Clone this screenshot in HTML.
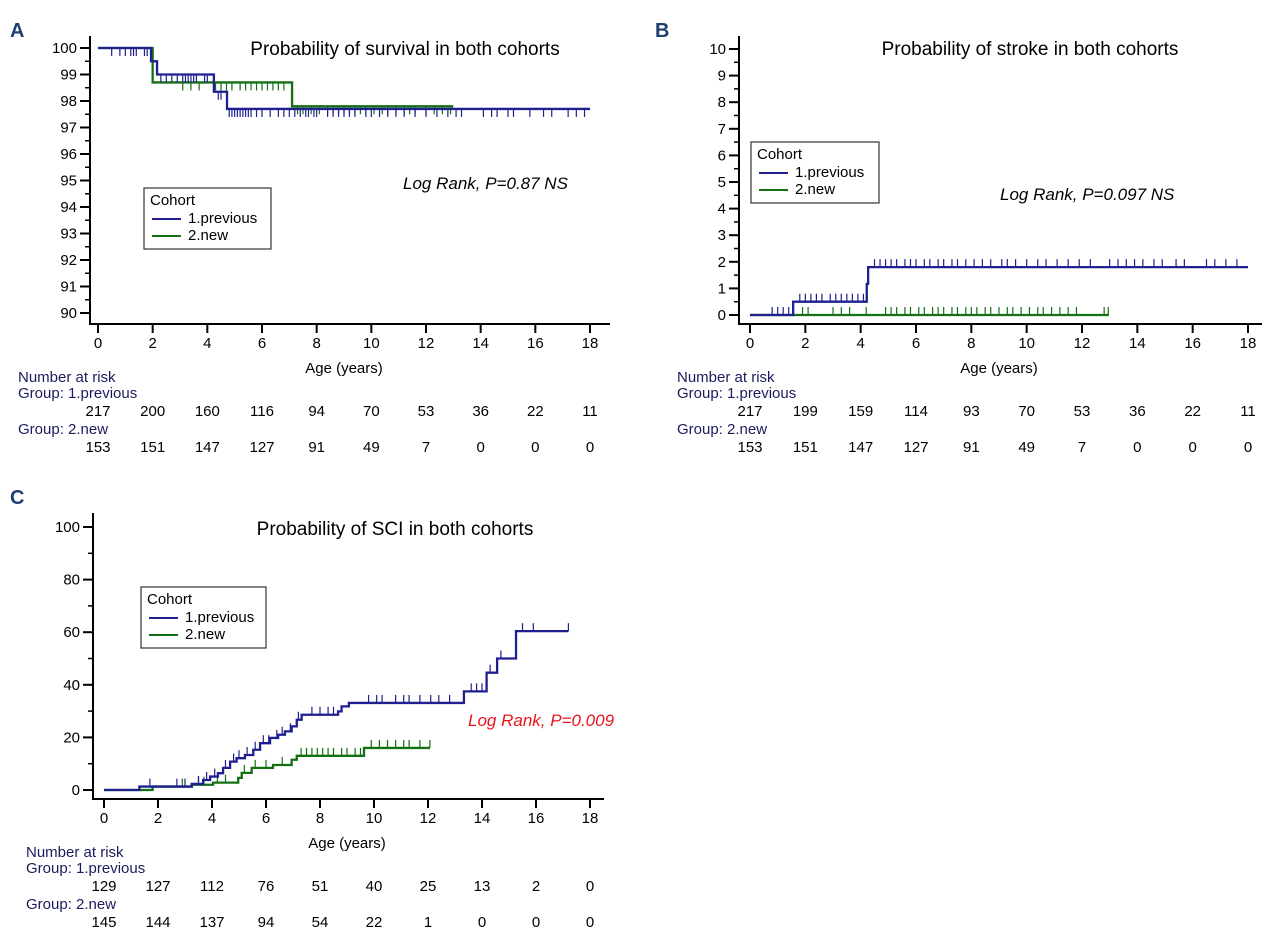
<!DOCTYPE html>
<html><head><meta charset="utf-8"><style>
html,body{margin:0;padding:0;background:#fff;width:1269px;height:942px;overflow:hidden}
svg{display:block;font-family:"Liberation Sans",Arial,sans-serif}
</style></head><body>
<svg id="fig" width="1269" height="942" viewBox="0 0 1269 942"></svg>
<script>
// ---------- data ----------
const xTicks = [0,2,4,6,8,10,12,14,16,18];
// Panel A (survival)
const aYTicks = [90,91,92,93,94,95,96,97,98,99,100];
const aPrevT = [0,1.94,2.16,4.24,4.72,18];
const aPrevV = [100,99.5,99.0,98.35,97.7,97.7];
const aNewT = [0,2.0,7.1,13.0];
const aNewV = [100,98.7,97.8,97.8];
const aPrevCens = [0.5,0.8,1.0,1.2,1.3,1.4,1.7,1.8,2.3,2.5,2.7,2.9,3.1,3.2,3.3,3.4,3.5,3.6,3.9,4.0,4.4,4.5,4.8,4.9,5.0,5.1,5.2,5.3,5.4,5.5,5.6,5.8,6.0,6.3,6.6,6.8,7.0,7.2,7.4,7.6,7.7,7.9,8.0,8.4,8.6,8.8,9.0,9.2,9.4,9.8,10.0,10.3,10.6,10.9,11.2,11.6,12.0,12.4,12.8,13.1,13.3,14.1,14.4,14.6,15.0,15.2,15.8,16.3,16.6,17.2,17.5,17.8];
const aNewCens = [3.1,3.4,3.7,4.3,4.5,4.7,4.9,5.2,5.4,5.6,5.8,6.0,6.2,6.4,6.6,6.8,7.3,7.5,7.8,8.1,8.4,8.6,8.8,9.0,9.2,9.4,9.6,9.8,10.1,10.4,10.6,10.9,11.2,11.4,11.6,12.0,12.3,12.6,12.9];
const aRiskPrev = [217,200,160,116,94,70,53,36,22,11];
const aRiskNew = [153,151,147,127,91,49,7,0,0,0];
// Panel B (stroke)
const bYTicks = [0,1,2,3,4,5,6,7,8,9,10];
const bPrevT = [0,1.56,4.22,4.27,18];
const bPrevV = [0,0.5,1.17,1.8,1.8];
const bNewT = [0,12.97];
const bNewV = [0,0];
const bPrevCens = [0.8,1.0,1.2,1.4,1.8,2.0,2.2,2.4,2.6,2.9,3.1,3.3,3.5,3.7,3.9,4.1,4.5,4.7,4.9,5.1,5.3,5.6,5.8,6.0,6.3,6.5,6.8,7.0,7.3,7.5,7.8,8.1,8.4,8.7,9.1,9.3,9.6,10.0,10.4,10.7,11.1,11.5,11.9,12.3,13.0,13.3,13.6,13.9,14.2,14.6,14.9,15.4,15.7,16.5,16.8,17.2,17.6];
const bNewCens = [1.9,2.1,3.0,3.3,3.6,4.2,4.9,5.1,5.3,5.6,5.8,6.1,6.3,6.6,6.8,7.0,7.3,7.5,7.8,8.0,8.2,8.5,8.7,9.0,9.3,9.5,9.8,10.1,10.4,10.6,10.9,11.2,11.5,11.8,12.8,12.95];
const bRiskPrev = [217,199,159,114,93,70,53,36,22,11];
const bRiskNew = [153,151,147,127,91,49,7,0,0,0];
// Panel C (SCI)
const cYTicks = [0,20,40,60,80,100];
const cPrevT = [0,1.31,3.25,3.67,3.93,4.22,4.41,4.67,4.91,5.22,5.53,5.78,6.15,6.45,6.7,6.95,7.14,7.32,8.67,8.8,9.07,13.33,14.17,14.56,15.26,17.2];
const cPrevV = [0,1.3,2.3,3.8,5.1,6.4,8.4,10.8,12.1,13.3,15.3,17.8,19.8,21,22.3,24.2,26.7,28.6,29.9,31.8,33.1,37.5,44.6,50,60.4,60.4];
const cNewT = [0,1.8,3.25,4.04,4.97,5.1,5.47,6.26,6.95,7.14,9.63,12.07];
const cNewV = [0,1.3,2.0,2.8,4.6,6.5,8.4,9.5,11.5,13,16,16];
const cPrevCens = [1.7,2.7,3.0,3.5,3.8,4.1,4.5,4.8,5.0,5.3,5.6,5.9,6.1,6.4,6.6,6.9,7.2,7.7,8.0,8.3,8.5,9.8,10.1,10.3,10.8,11.1,11.3,11.7,12.1,12.4,12.8,13.6,13.8,14.0,14.3,14.7,15.5,15.9,17.2];
const cNewCens = [2.9,3.5,3.7,4.2,4.5,5.2,5.6,6.0,6.6,7.3,7.5,7.7,7.9,8.1,8.3,8.5,8.8,9.0,9.3,9.5,9.9,10.2,10.5,10.8,11.1,11.3,11.7,12.07];
const cRiskPrev = [129,127,112,76,51,40,25,13,2,0];
const cRiskNew = [145,144,137,94,54,22,1,0,0,0];

const BLUE="#1f1f8f", GREEN="#137013";
const svg=document.getElementById('fig');
const NS="http://www.w3.org/2000/svg";
function el(tag,attrs,parent){const e=document.createElementNS(NS,tag);for(const k in attrs)e.setAttribute(k,attrs[k]);(parent||svg).appendChild(e);return e;}
function txt(s,x,y,attrs,parent){const t=el('text',Object.assign({x:x,y:y,'font-size':15,fill:'#000'},attrs),parent);t.textContent=s;return t;}

function panel(p){
  const g=el('g',{});
  
  
  const X=v=>p.x0+(v-0)*(p.x1-p.x0)/18;
  const Y=v=>p.y0+(v-p.ymin)*(p.y1-p.y0)/(p.ymax-p.ymin);
  const L=txt(p.letter,p.lx,p.ly,{'font-size':20,'font-weight':'bold',fill:'#1d3f72'},g);
  
  
  const ax=el('path',{d:`M${p.ax},${p.atop} V${p.axy} H${p.aright}`,stroke:'#000','stroke-width':2,fill:'none'},g);
  
  
  xTicks.forEach(v=>{
    el('line',{x1:X(v),x2:X(v),y1:p.axy,y2:p.axy+9,stroke:'#000','stroke-width':2},g);
    const t=txt(String(v),X(v),p.axy+24,{'text-anchor':'middle'},g);
    
    
  });
  p.yTicks.forEach((v,i)=>{
    el('line',{x1:p.ax-10,x2:p.ax,y1:Y(v),y2:Y(v),stroke:'#000','stroke-width':2},g);
    const t=txt(String(v),p.ax-13,Y(v)+5,{'text-anchor':'end'},g);
    
    
    if(i<p.yTicks.length-1){const m=(v+p.yTicks[i+1])/2;el('line',{x1:p.ax-5,x2:p.ax,y1:Y(m),y2:Y(m),stroke:'#000','stroke-width':1.5},g);}
  });
  const xt=txt('Age (years)',X(9),p.axy+49,{'text-anchor':'middle'},g);
  
  
  const tt=txt(p.title,p.tx,p.ty,{'font-size':19,'text-anchor':'middle'},g);
  
  
  const lr=txt(p.lr,p.lrx,p.lry,{'font-size':17,'font-style':'italic',fill:p.lrc},g);
  
  
  function curve(T,V,cens,col,name){
    let d=`M${X(T[0])},${Y(V[0])}`;
    for(let i=1;i<T.length;i++){d+=` H${X(T[i])} V${Y(V[i])}`;}
    const c=el('path',{d:d,stroke:col,'stroke-width':2.3,fill:'none'},g);
    
    
    cens.forEach(t=>{
      let v=V[0];for(let i=0;i<T.length;i++){if(T[i]<=t)v=V[i];}
      const m=el('line',{x1:X(t),x2:X(t),y1:Y(v)+(p.down?8:-8),y2:Y(v),stroke:col,'stroke-width':1.2},g);
      
      
    });
  }
  curve(p.newT,p.newV,p.newC,GREEN,'curve-new');
  curve(p.prevT,p.prevV,p.prevC,BLUE,'curve-previous');
  const lg=el('g',{},g);
  
  
  el('rect',{x:p.lgx,y:p.lgy,width:p.lgw,height:61,fill:'#fff',stroke:'#333','stroke-width':1.2},lg);
  txt('Cohort',p.lgx+6,p.lgy+17,{},lg);
  el('line',{x1:p.lgx+8,x2:p.lgx+37,y1:p.lgy+31,y2:p.lgy+31,stroke:BLUE,'stroke-width':2},lg);
  txt('1.previous',p.lgx+44,p.lgy+35,{},lg);
  el('line',{x1:p.lgx+8,x2:p.lgx+37,y1:p.lgy+48,y2:p.lgy+48,stroke:GREEN,'stroke-width':2},lg);
  txt('2.new',p.lgx+44,p.lgy+52,{},lg);
  const rt=el('g',{},g);
  
  
  const r0=p.axy+58;
  txt('Number at risk',p.rx,r0,{fill:'#1c1c5c'},rt);
  txt('Group: 1.previous',p.rx,r0+16,{fill:'#1c1c5c'},rt);
  p.riskPrev.forEach((n,i)=>txt(String(n),X(xTicks[i]),r0+34,{'text-anchor':'middle'},rt));
  txt('Group: 2.new',p.rx,r0+52,{fill:'#1c1c5c'},rt);
  p.riskNew.forEach((n,i)=>txt(String(n),X(xTicks[i]),r0+70,{'text-anchor':'middle'},rt));
}

panel({name:'panel-a-survival',letter:'A',lx:10,ly:37,x0:98,x1:590,y0:313,y1:48,ymin:90,ymax:100,ax:90,atop:36,axy:324,aright:610,
  yTicks:aYTicks,title:'Probability of  survival in both cohorts',tx:405,ty:55,lr:'Log Rank, P=0.87 NS',lrx:403,lry:189,lrc:'#000',
  prevT:aPrevT,prevV:aPrevV,newT:aNewT,newV:aNewV,prevC:aPrevCens,newC:aNewCens,down:true,
  lgx:144,lgy:188,lgw:127,rx:18,riskPrev:aRiskPrev,riskNew:aRiskNew});
panel({name:'panel-b-stroke',letter:'B',lx:655,ly:37,x0:750,x1:1248,y0:315,y1:49,ymin:0,ymax:10,ax:739,atop:36,axy:324,aright:1262,
  yTicks:bYTicks,title:'Probability of stroke in both cohorts',tx:1030,ty:55,lr:'Log Rank, P=0.097 NS',lrx:1000,lry:200,lrc:'#000',
  prevT:bPrevT,prevV:bPrevV,newT:bNewT,newV:bNewV,prevC:bPrevCens,newC:bNewCens,down:false,
  lgx:751,lgy:142,lgw:128,rx:677,riskPrev:bRiskPrev,riskNew:bRiskNew});
panel({name:'panel-c-sci',letter:'C',lx:10,ly:504,x0:104,x1:590,y0:790,y1:527,ymin:0,ymax:100,ax:93,atop:513,axy:799,aright:604,
  yTicks:cYTicks,title:'Probability of SCI in both cohorts',tx:395,ty:535,lr:'Log Rank, P=0.009',lrx:468,lry:726,lrc:'#e8141c',
  prevT:cPrevT,prevV:cPrevV,newT:cNewT,newV:cNewV,prevC:cPrevCens,newC:cNewCens,down:false,
  lgx:141,lgy:587,lgw:125,rx:26,riskPrev:cRiskPrev,riskNew:cRiskNew});
</script>
</body></html>
